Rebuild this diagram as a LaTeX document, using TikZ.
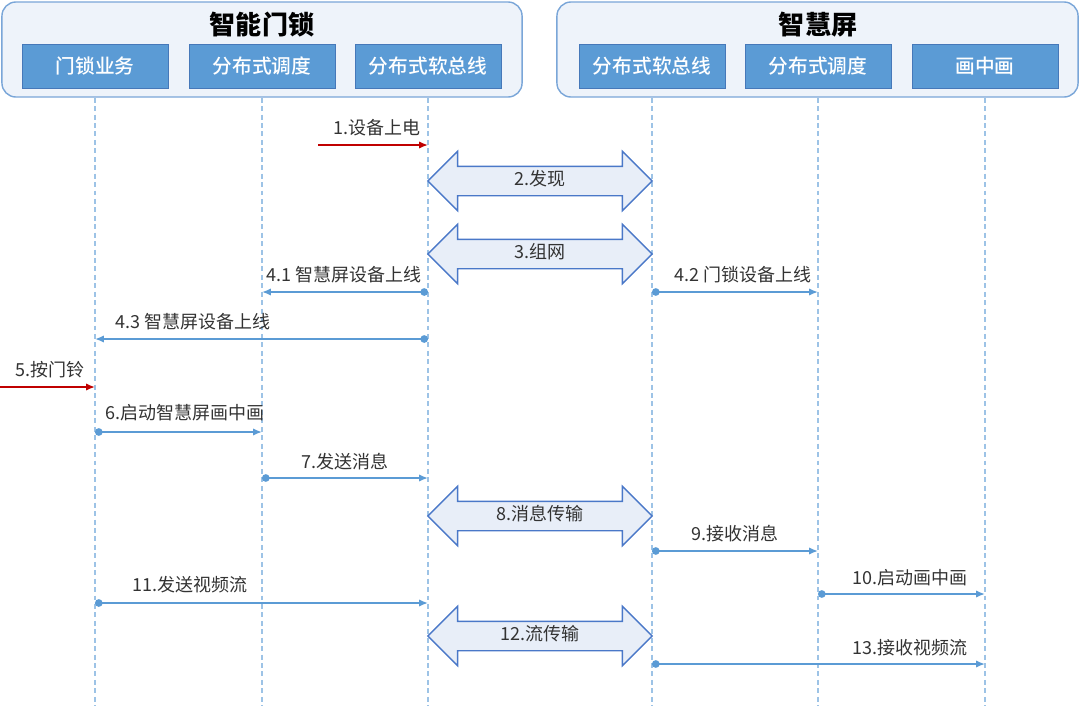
\documentclass[tikz,border=0pt]{standalone}
\usepackage{fontspec}
\setmainfont{Noto Sans CJK SC}
\IfFontExistsTF{Noto Sans CJK SC Medium}
  {\newfontfamily\boxfont{Noto Sans CJK SC Medium}}
  {\newfontfamily\boxfont{Noto Sans CJK SC}}
\usepackage{tikz}
\usetikzlibrary{positioning,arrows.meta,shapes.arrows}
\definecolor{grpfill}{RGB}{238,243,250}
\definecolor{grpline}{RGB}{122,166,216}
\definecolor{boxblue}{RGB}{91,155,213}
\definecolor{boxline}{RGB}{70,120,185}
\definecolor{lifeblue}{RGB}{157,195,230}
\definecolor{msgblue}{RGB}{91,155,213}
\definecolor{busfill}{RGB}{232,238,248}
\definecolor{busline}{RGB}{74,120,200}
\definecolor{bellred}{RGB}{192,0,0}
\definecolor{txtgray}{RGB}{51,51,51}

\begin{document}
\begin{tikzpicture}[
  x=0.025cm, y=-0.025cm,
  every node/.style={text=txtgray, font=\fontsize{12.8}{15}\selectfont},
  grpbox/.style={draw=grpline, fill=grpfill, line width=1pt, rounded corners=0.35cm, minimum height=2.375cm},
  grptitle/.style={font=\fontsize{18.5}{20}\selectfont\bfseries, text=black},
  partbox/.style={draw=boxline, fill=boxblue, text=white, minimum width=3.65cm, minimum height=1.1cm, font=\boxfont\fontsize{14}{16}\selectfont},
  lifeline/.style={draw=lifeblue, line width=0.8pt, dash pattern=on 3.5pt off 2.5pt},
  msg/.style={draw=msgblue, line width=1.1pt, {Circle[length=1.9mm]}-{Latex[length=2.2mm,width=1.8mm]}},
  bellarrow/.style={draw=bellred, line width=1.1pt, -{Latex[length=2.2mm,width=1.8mm]}},
  busarrow/.style={double arrow, draw=busline, fill=busfill, line width=1pt, minimum height=5.6cm, double arrow head extend=0.375cm, text height=0.3cm, text depth=0.08cm, inner ysep=0.16cm, inner xsep=0pt}
]
\useasboundingbox (0,0) rectangle (1080,706);

% participants
\node[grpbox, minimum width=13cm] (lockgrp) at (262,49.5) {};
\node[grpbox, minimum width=13.025cm] (tvgrp) at (817.5,49.5) {};
\node[grptitle] (locktitle) at (262,25) {智能门锁};
\node[grptitle] (tvtitle) at (818,25) {智慧屏};
\node[partbox] (lock1) at (95,66) {门锁业务};
\node[partbox] (lock2) at (262,66) {分布式调度};
\node[partbox] (lock3) at (428,66) {分布式软总线};
\node[partbox] (tv1) at (652,66) {分布式软总线};
\node[partbox] (tv2) at (818,66) {分布式调度};
\node[partbox] (tv3) at (985,66) {画中画};

% lifelines
\coordinate (bot) at (0,706);
\draw[lifeline] (lock1 |- lockgrp.south) -- (lock1 |- bot);
\draw[lifeline] (lock2 |- lockgrp.south) -- (lock2 |- bot);
\draw[lifeline] (lock3 |- lockgrp.south) -- (lock3 |- bot);
\draw[lifeline] (tv1 |- tvgrp.south) -- (tv1 |- bot);
\draw[lifeline] (tv2 |- tvgrp.south) -- (tv2 |- bot);
\draw[lifeline] (tv3 |- tvgrp.south) -- (tv3 |- bot);

% message rows
\coordinate (r41) at (0,292);
\coordinate (r43) at (0,339);
\coordinate (r6) at (0,432);
\coordinate (r7) at (0,478);
\coordinate (r9) at (0,551);
\coordinate (r10) at (0,594);
\coordinate (r11) at (0,603);
\coordinate (r13) at (0,664);

% 1
\coordinate (pwr) at (318,145);
\draw[bellarrow] (pwr) -- (pwr -| lock3);
\node[anchor=east] (t1) at (425,128) {1.设备上电};

% 2, 3
\node[busarrow] (bus2) at (540,181) {2.发现};
\node[busarrow] (bus3) at (540,254) {3.组网};

% 4
\draw[msg] (lock3 |- r41) -- (lock2 |- r41);
\node[anchor=east] (t41) at (426,275) {4.1 智慧屏设备上线};
\draw[msg] (tv1 |- r41) -- (tv2 |- r41);
\node[anchor=east] (t42) at (816,275) {4.2 门锁设备上线};
\draw[msg] (lock3 |- r43) -- (lock1 |- r43);
\node[anchor=west] (t43) at (111,322) {4.3 智慧屏设备上线};

% 5
\coordinate (bell) at (0,387);
\draw[bellarrow] (bell) -- (bell -| lock1);
\node[anchor=west] (t5) at (11,370) {5.按门铃};

% 6, 7
\draw[msg] (lock1 |- r6) -- (lock2 |- r6);
\node[anchor=west] (t6) at (101,413) {6.启动智慧屏画中画};
\draw[msg] (lock2 |- r7) -- (lock3 |- r7);
\node (t7) at (345,462) {7.发送消息};

% 8, 9, 10
\node[busarrow] (bus8) at (540,516) {8.消息传输};
\draw[msg] (tv1 |- r9) -- (tv2 |- r9);
\node (t9) at (735,534) {9.接收消息};
\draw[msg] (tv2 |- r10) -- (tv3 |- r10);
\node[anchor=east] (t10) at (972,578) {10.启动画中画};

% 11, 12, 13
\draw[msg] (lock1 |- r11) -- (lock3 |- r11);
\node (t11) at (190,585) {11.发送视频流};
\node[busarrow] (bus12) at (540,636) {12.流传输};
\draw[msg] (tv1 |- r13) -- (tv3 |- r13);
\node[anchor=east] (t13) at (972,648) {13.接收视频流};
\end{tikzpicture}
\end{document}
